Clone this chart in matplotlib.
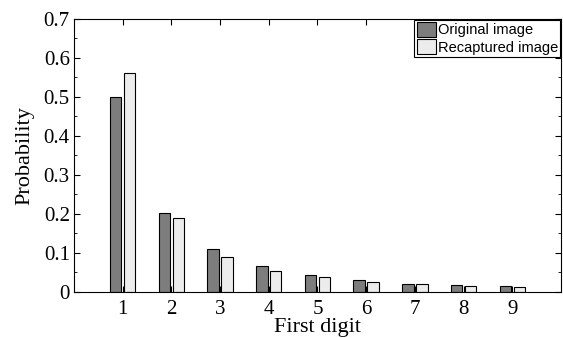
import numpy as np
from matplotlib import pyplot as plt

digits = [1, 2, 3, 4, 5, 6, 7, 8, 9]
original = [0.499, 0.202, 0.109, 0.066, 0.043, 0.030, 0.021, 0.018, 0.015]
recaptured = [0.561, 0.189, 0.091, 0.054, 0.038, 0.026, 0.020, 0.016, 0.014]
labels = ["Original image", "Recaptured image"]
yticks = [0, 0.1, 0.2, 0.3, 0.4, 0.5, 0.6, 0.7]
yticklabels = ["0", "0.1", "0.2", "0.3", "0.4", "0.5", "0.6", "0.7"]


def main():
    fig = plt.figure(figsize=(5.63, 3.38), dpi=100)
    ax = fig.add_axes([0.1314, 0.1361, 0.865, 0.8077])
    x = np.array(digits)
    w = 0.235
    ax.bar(x - 0.143, original, w, color="#7d7d7d", edgecolor="black", linewidth=0.8, label=labels[0])
    ax.bar(x + 0.143, recaptured, w, color="#ececec", edgecolor="black", linewidth=0.8, label=labels[1])

    ax.set_xlim(0, 10)
    ax.set_ylim(0, 0.7)
    ax.set_xticks(digits)
    ax.set_yticks(yticks)
    ax.set_yticklabels(yticklabels)
    ax.set_yticks(np.arange(0.05, 0.7, 0.1), minor=True)
    ax.tick_params(which="both", direction="in", top=True, right=True, labelsize=15)
    ax.tick_params(which="major", length=4)
    ax.tick_params(which="minor", length=2.5)
    ax.tick_params(axis="x", pad=6)
    ax.tick_params(axis="y", pad=3)
    for lab in ax.get_xticklabels() + ax.get_yticklabels():
        lab.set_family("Liberation Serif")
    for s in ax.spines.values():
        s.set_linewidth(0.8)

    ax.set_xlabel("First digit", family="Liberation Serif", fontsize=16, labelpad=-1)
    ax.set_ylabel("Probability", family="Liberation Serif", fontsize=16, labelpad=7)
    leg = ax.legend(loc="upper right", fancybox=False, edgecolor="black", framealpha=1,
                    prop={"family": "Liberation Sans", "size": 10.5},
                    handlelength=1.3, handleheight=1.2, handletextpad=0.15,
                    borderpad=0.15, labelspacing=0.15, borderaxespad=0.05)
    leg.get_frame().set_linewidth(0.8)

    fig.savefig("out.png", dpi=100)


if __name__ == "__main__":
    main()
